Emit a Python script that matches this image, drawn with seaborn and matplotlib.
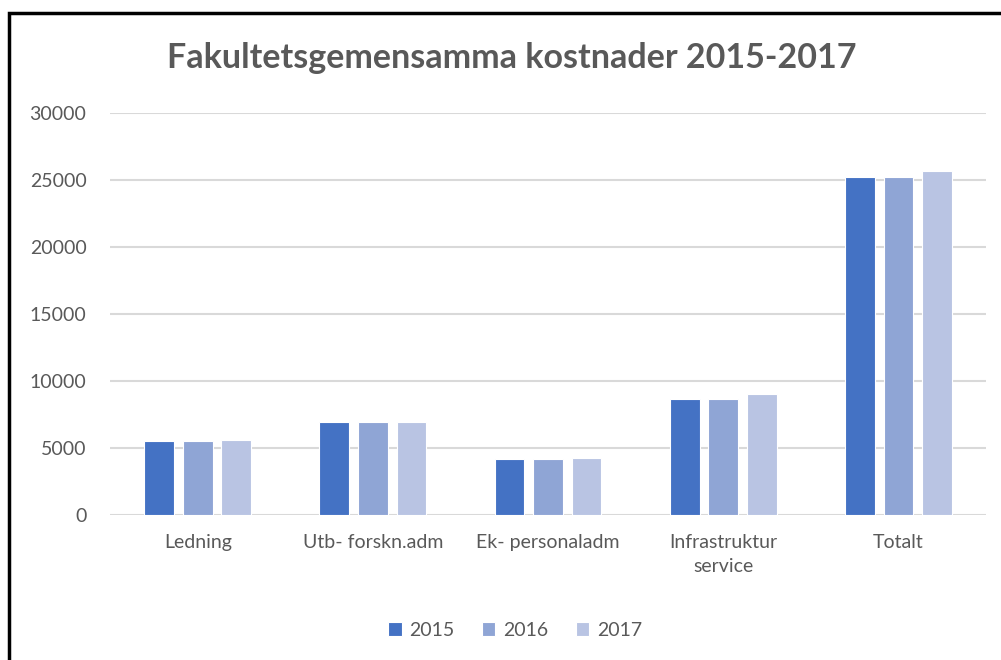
import pandas as pd
import seaborn as sns
import matplotlib.pyplot as plt
from matplotlib.patches import Rectangle

# data
kategorier = ["Ledning", "Utb- forskn.adm", "Ek- personaladm", "Infrastruktur\nservice", "Totalt"]
ar = ["2015", "2016", "2017"]
v2015 = [5500, 6910, 4150, 8630, 25220]
v2016 = [5500, 6910, 4150, 8630, 25220]
v2017 = [5570, 6910, 4230, 9000, 25670]
farger = ["#4472C4", "#8FA5D5", "#B9C4E3"]

rader = []
for a, vals in zip(ar, [v2015, v2016, v2017]):
    for k, v in zip(kategorier, vals):
        rader.append({"Kategori": k, "Ar": a, "Kostnad": v})
df = pd.DataFrame(rader)

sns.set_style("white")
plt.rcParams["font.family"] = ["Lato", "DejaVu Sans"]

fig = plt.figure(figsize=(10.01, 6.6), dpi=100)
ax = fig.add_axes([0.11, 1 - 515 / 660, 0.875, (515 - 113) / 660])

sns.barplot(data=df, x="Kategori", y="Kostnad", hue="Ar", palette=farger,
            width=0.66, gap=0.23, edgecolor="white", linewidth=0.8, ax=ax,
            saturation=1, zorder=3)

ax.set_ylim(0, 30000)
ax.set_yticks(range(0, 30001, 5000))
ax.grid(axis="y", color="#D9D9D9", linewidth=1.5, zorder=0)
ax.set_axisbelow(True)
for s in ax.spines.values():
    s.set_visible(False)
ax.set_xlabel("")
ax.set_ylabel("")
ax.tick_params(axis="both", length=0, labelsize=14, colors="#595959")
ax.tick_params(axis="y", pad=17)
ax.tick_params(axis="x", pad=14)
for t in ax.get_xticklabels():
    t.set_linespacing(1.5)

ax.legend(loc="center", bbox_to_anchor=(515 / 1001, 1 - 630 / 660),
          bbox_transform=fig.transFigure, ncol=3, frameon=False,
          fontsize=14, labelcolor="#595959", handlelength=0.7,
          handleheight=0.7, handletextpad=0.4, columnspacing=1.4)

fig.text(512 / 1001, 1 - 58 / 660, "Fakultetsgemensamma kostnader 2015-2017",
         ha="center", va="center", fontsize=24.5, fontweight="bold", color="#595959")

# svart ram runt diagrammet
fig.patches.append(Rectangle((9 / 1001, -0.1), 1.2, 1 - 13 / 660 + 0.1,
                             transform=fig.transFigure, fill=False,
                             edgecolor="black", linewidth=2.5))

fig.savefig("out.png", dpi=100)
